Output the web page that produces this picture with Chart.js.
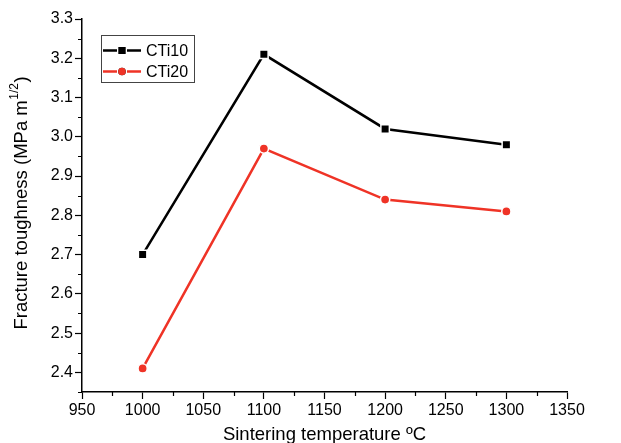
<!DOCTYPE html>
<html>
<head>
<meta charset="utf-8">
<script src="https://cdn.jsdelivr.net/npm/chart.js@4"></script>
<style>
  html, body { margin: 0; padding: 0; background: #fff; }
  #wrap { width: 621px; height: 443px; }
</style>
</head>
<body>
<div id="wrap"><canvas id="chart"></canvas></div>
<script>
// data
const temps = [1000, 1100, 1200, 1300];
const cti10 = [2.70, 3.21, 3.02, 2.98];
const cti20 = [2.41, 2.97, 2.84, 2.81];
const seriesNames = ['CTi10', 'CTi20'];
const xTicks = [950, 1000, 1050, 1100, 1150, 1200, 1250, 1300, 1350];
const xMinor = [975, 1025, 1075, 1125, 1175, 1225, 1275, 1325];
const yTicks = [2.4, 2.5, 2.6, 2.7, 2.8, 2.9, 3.0, 3.1, 3.2, 3.3];
const yMinor = [2.35, 2.45, 2.55, 2.65, 2.75, 2.85, 2.95, 3.05, 3.15, 3.25];
const xTitle = 'Sintering temperature \u00BAC';
const yTitle = ['Fracture toughness (MPa m', '1/2', ')'];

const RED = '#ef3326';
const FONT = "'Liberation Sans', Arial, sans-serif";

const toXY = (xs, ys) => xs.map((x, i) => ({ x: x, y: ys[i] }));

// minor ticks, axis titles and the boxed legend
const decorations = {
  id: 'decorations',
  afterDraw(chart) {
    const ctx = chart.ctx;
    const xs = chart.scales.x, ys = chart.scales.y;
    const area = chart.chartArea;
    ctx.save();
    ctx.strokeStyle = '#000';
    ctx.lineWidth = 1.2;
    ctx.beginPath();
    xMinor.forEach(v => {
      const px = Math.round(xs.getPixelForValue(v)) + 0.5;
      ctx.moveTo(px, area.bottom);
      ctx.lineTo(px, area.bottom + 4);
    });
    yMinor.forEach(v => {
      const py = Math.round(ys.getPixelForValue(v)) + 0.5;
      ctx.moveTo(area.left, py);
      ctx.lineTo(area.left - 4, py);
    });
    ctx.stroke();

    // x title
    ctx.fillStyle = '#000';
    ctx.font = '18.5px ' + FONT;
    ctx.textAlign = 'center';
    ctx.textBaseline = 'middle';
    ctx.fillText(xTitle, (area.left + area.right) / 2, 435);

    // y title with superscript
    ctx.save();
    ctx.translate(22, (area.top + area.bottom) / 2 - 2);
    ctx.rotate(-Math.PI / 2);
    ctx.textAlign = 'left';
    const mainFont = '18.5px ' + FONT, supFont = '12px ' + FONT;
    ctx.font = mainFont;
    const w1 = ctx.measureText(yTitle[0]).width;
    const w3 = ctx.measureText(yTitle[2]).width;
    ctx.font = supFont;
    const w2 = ctx.measureText(yTitle[1]).width;
    let x0 = -(w1 + w2 + w3) / 2;
    ctx.font = mainFont;
    ctx.fillText(yTitle[0], x0, 0);
    ctx.font = supFont;
    ctx.fillText(yTitle[1], x0 + w1 + 0.5, -7);
    ctx.font = mainFont;
    ctx.fillText(yTitle[2], x0 + w1 + w2 + 1, 0);
    ctx.restore();

    // legend box
    const bx = area.left + 19, by = area.top + 15.5, bw = 93, bh = 47;
    ctx.strokeStyle = '#444';
    ctx.lineWidth = 1;
    ctx.strokeRect(Math.round(bx) + 0.5, Math.round(by) + 0.5, bw, bh);
    chart.data.datasets.forEach((ds, i) => {
      const ry = by + 16 + i * 21;
      ctx.strokeStyle = ds.borderColor;
      ctx.lineWidth = 2.5;
      ctx.beginPath();
      ctx.moveTo(bx + 2, ry);
      ctx.lineTo(bx + 16, ry);
      ctx.moveTo(bx + 26, ry);
      ctx.lineTo(bx + 40, ry);
      ctx.stroke();
      Chart.helpers.drawPoint(ctx, {
        pointStyle: ds.pointStyle,
        radius: ds.pointStyle === 'rect' ? 4.9 : 3.8,
        borderWidth: 0,
        rotation: 0
      }, bx + 21, ry);
      ctx.fillStyle = ds.borderColor;
      ctx.fill();
      ctx.fillStyle = '#000';
      ctx.font = '16px ' + FONT;
      ctx.textAlign = 'left';
      ctx.textBaseline = 'middle';
      ctx.fillText(ds.label, bx + 45, ry + 1);
    });
    ctx.restore();
  }
};

const axisCommon = {
  type: 'linear',
  grid: {
    drawOnChartArea: false,
    tickLength: 7,
    tickColor: '#000',
    tickWidth: 1.2
  },
  border: { display: true, color: '#000', width: 1.5 },
  ticks: { color: '#000', font: { size: 16, family: FONT }, autoSkip: false, maxRotation: 0 }
};

new Chart(document.getElementById('chart'), {
  type: 'line',
  data: {
    datasets: [
      {
        label: seriesNames[0],
        data: toXY(temps, cti10),
        borderColor: '#000',
        backgroundColor: '#000',
        borderWidth: 2.5,
        pointStyle: 'rect',
        pointRadius: 6,
        pointBorderWidth: 1.5,
        pointBorderColor: '#fff',
        pointBackgroundColor: '#000',
        tension: 0
      },
      {
        label: seriesNames[1],
        data: toXY(temps, cti20),
        borderColor: RED,
        backgroundColor: RED,
        borderWidth: 2.5,
        pointStyle: 'circle',
        pointRadius: 4.6,
        pointBorderWidth: 1.5,
        pointBorderColor: '#fff',
        pointBackgroundColor: RED,
        tension: 0
      }
    ]
  },
  options: {
    responsive: true,
    maintainAspectRatio: false,
    animation: false,
    layout: { padding: { top: 19, right: 54, left: 0, bottom: 0 } },
    plugins: { legend: { display: false }, tooltip: { enabled: false } },
    scales: {
      x: Object.assign({}, axisCommon, {
        min: 950, max: 1350,
        ticks: Object.assign({}, axisCommon.ticks, { padding: 2, callback: v => String(v) }),
        afterBuildTicks: s => { s.ticks = xTicks.map(v => ({ value: v })); },
        afterFit: s => { s.height = 51; }
      }),
      y: Object.assign({}, axisCommon, {
        min: 2.35, max: 3.3,
        ticks: Object.assign({}, axisCommon.ticks, {
          padding: 2,
          callback: v => v.toFixed(1)
        }),
        afterBuildTicks: s => { s.ticks = yTicks.map(v => ({ value: v })); },
        afterFit: s => { s.width = 82; }
      })
    }
  },
  plugins: [decorations]
});
</script>
</body>
</html>
